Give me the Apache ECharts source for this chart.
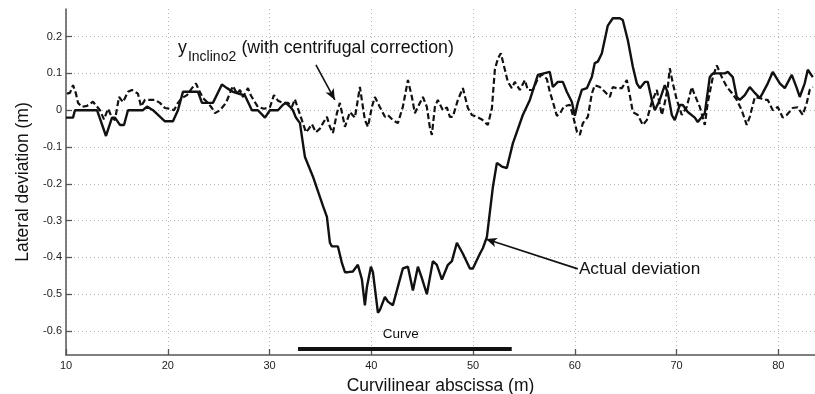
<!DOCTYPE html>
<html>
<head>
    <meta http-equiv="Content-Type" content="text/html; charset=UTF-8">
    <title>Lateral deviation</title>
    <script src="https://cdn.jsdelivr.net/npm/echarts@6/dist/echarts.min.js"></script>
    <style type="text/css">
        *{padding:0;margin:0}
        body{background:#fff;}
        #chart{width:815px;height:394px;}
    </style>
</head>
<body>
<div id="chart"></div>
<script type="text/javascript">
    // actual deviation (solid)
    var solidX = [10.00,10.69,10.88,13.05,13.93,14.52,14.81,15.30,15.70,16.09,17.56,17.96,18.55,19.72,20.51,21.00,21.49,22.97,23.36,24.44,
        25.32,25.82,26.40,27.58,28.27,28.86,29.55,30.04,30.83,31.32,31.61,32.00,32.30,32.59,32.99,33.28,33.48,33.67,34.26,35.25,
        35.64,35.93,36.13,36.72,37.11,37.41,37.70,38.19,38.68,39.08,39.37,39.57,39.96,40.16,40.65,40.84,41.34,41.63,42.12,42.61,
        43.10,43.60,44.09,44.58,44.97,45.46,46.05,46.44,46.94,47.53,47.92,48.41,49.00,49.69,49.98,50.67,50.96,51.36,51.94,52.34,
        52.83,53.32,53.91,54.89,55.58,56.37,57.54,57.84,58.33,58.82,59.21,59.70,60.00,60.29,60.69,61.18,61.67,61.96,62.26,62.65,
        63.24,63.73,64.42,64.71,65.21,65.70,66.09,66.39,66.88,67.17,67.57,67.86,68.35,68.84,69.14,69.53,69.82,70.31,70.61,71.10,
        71.79,72.08,72.77,73.26,73.56,74.74,75.03,75.52,75.91,76.21,76.70,77.19,77.69,78.18,78.47,78.96,79.45,80.14,80.63,81.32,
        81.81,82.10,82.59,82.89,83.38];
    var solidY = [-0.02,-0.02,0.0,0.0,-0.07,-0.02,-0.02,-0.04,-0.04,0.0,0.0,0.01,0.0,-0.03,-0.03,0.0,0.05,0.05,0.02,0.02,
        0.07,0.06,0.05,0.04,0.0,0.0,-0.02,0.0,0.0,0.015,0.02,0.01,0.0,-0.02,-0.035,-0.09,-0.127,-0.13,-0.18,-0.26,
        -0.29,-0.36,-0.37,-0.37,-0.415,-0.44,-0.44,-0.438,-0.42,-0.46,-0.53,-0.48,-0.425,-0.44,-0.55,-0.543,-0.507,-0.52,-0.53,-0.48,
        -0.43,-0.425,-0.49,-0.425,-0.456,-0.5,-0.41,-0.42,-0.46,-0.42,-0.41,-0.36,-0.39,-0.43,-0.43,-0.39,-0.375,-0.344,-0.21,-0.143,
        -0.153,-0.157,-0.09,-0.013,0.028,0.096,0.104,0.063,0.077,0.077,0.05,0.023,-0.015,0.02,0.055,0.06,0.09,0.128,0.132,0.154,
        0.23,0.25,0.25,0.245,0.19,0.118,0.073,0.06,0.077,0.077,0.028,0.0,0.028,0.068,0.047,-0.013,-0.027,0.014,0.014,-0.005,
        -0.02,-0.032,-0.008,0.09,0.1,0.1,0.104,0.09,0.036,0.028,0.041,0.063,0.047,0.033,0.047,0.073,0.104,0.073,0.06,0.096,
        0.06,0.036,0.073,0.11,0.09];

    // y Inclino2 with centrifugal correction (dashed)
    var dashX = [10.10,10.39,10.69,10.98,11.18,11.57,12.06,12.65,13.34,13.73,14.13,14.52,14.81,15.21,15.60,16.09,16.48,17.07,17.37,17.76,
        18.25,18.74,19.23,19.72,20.22,20.61,21.00,21.39,21.89,22.38,22.77,23.06,23.46,23.95,24.34,24.64,25.13,25.72,26.40,26.80,
        27.09,27.39,27.88,28.17,28.47,28.86,29.45,30.04,30.43,30.83,31.32,31.81,32.20,32.49,32.79,33.18,33.58,33.87,34.16,34.56,
        34.95,35.25,35.64,35.93,36.23,36.62,36.91,37.41,37.90,38.39,38.88,39.37,39.67,40.06,40.35,40.84,41.34,41.63,42.12,42.61,
        43.10,43.60,43.99,44.28,44.58,45.07,45.46,45.76,45.95,46.25,46.54,47.03,47.43,47.72,48.01,48.51,49.00,49.49,49.88,50.37,
        50.86,51.45,51.85,52.14,52.43,52.73,53.02,53.42,53.81,54.10,54.60,55.09,55.38,55.87,56.27,56.76,57.25,57.54,57.84,58.23,
        58.53,58.92,59.51,59.80,60.20,60.49,60.79,61.28,61.67,61.96,62.46,62.95,63.44,63.73,64.12,64.62,65.11,65.40,65.70,66.19,
        66.68,67.07,67.57,68.06,68.55,68.84,69.14,69.33,69.63,70.02,70.51,71.00,71.49,71.79,72.28,72.77,73.06,73.56,73.95,74.44,
        74.94,75.43,75.91,76.40,76.89,77.19,77.69,78.18,78.67,78.96,79.45,79.94,80.43,80.82,81.41,81.90,82.40,82.79,83.08,83.38];
    var dashY = [0.045,0.047,0.068,0.045,0.02,0.009,0.012,0.023,0.0,-0.025,0.004,-0.02,-0.027,0.036,0.022,0.05,0.055,0.045,0.01,0.028,
        0.028,0.028,0.02,0.006,0.004,0.0,0.02,0.033,0.041,0.06,0.073,0.055,0.033,0.02,0.006,-0.008,0.0,0.02,0.066,0.045,
        0.055,0.036,0.06,0.04,0.026,0.009,0.004,0.008,0.041,0.026,0.02,0.02,0.009,0.03,0.005,-0.027,-0.06,-0.05,-0.038,-0.06,
        -0.05,-0.035,-0.018,-0.045,-0.062,-0.008,0.02,-0.045,-0.005,-0.02,0.063,-0.027,-0.045,0.009,0.036,0.009,-0.018,-0.013,-0.027,-0.035,
        0.009,0.082,0.036,-0.008,0.009,0.036,0.009,-0.048,-0.067,0.009,0.028,0.0,0.008,-0.018,-0.018,0.028,0.06,0.006,-0.013,-0.018,
        -0.025,-0.04,0.005,0.11,0.14,0.155,0.122,0.077,0.06,0.077,0.055,0.082,0.055,0.055,0.08,0.098,0.085,0.05,0.023,-0.015,
        -0.01,0.01,0.015,-0.013,-0.058,-0.067,-0.035,-0.018,0.045,0.068,0.063,0.05,0.036,0.063,0.06,0.06,0.082,0.041,-0.005,-0.013,
        -0.04,-0.027,0.023,0.055,-0.013,0.02,0.063,0.114,0.073,0.028,-0.013,0.009,0.063,0.041,0.009,-0.04,0.02,0.09,0.122,0.09,
        0.063,0.047,0.028,0.0,-0.04,-0.018,0.036,0.033,0.028,0.028,0.0,0.009,-0.02,-0.013,0.006,0.008,-0.013,0.02,0.055,0.063];

    var curveSpan = [32.8, 53.8];   // thick bar "Curve"
    var curveLevel = -0.647;
    var xTicks = [10, 20, 30, 40, 50, 60, 70, 80];
    var yTicks = [-0.6, -0.5, -0.4, -0.3, -0.2, -0.1, 0, 0.1, 0.2];

    function zip(xs, ys){
        return xs.map(function(x, i){ return [x, ys[i]]; });
    }

    var font = 'Liberation Sans, Arial, sans-serif';
    var chart = echarts.init(document.getElementById('chart'));

    var option = {
        animation: false,
        backgroundColor: '#fff',
        grid: {left: 66, right: 0, top: 9, bottom: 39, outerBoundsMode: 'none', containLabel: false},
        xAxis: {
            type: 'value',
            min: 10, max: 83.6, interval: 10,
            name: 'Curvilinear abscissa (m)',
            nameLocation: 'middle',
            nameGap: 22,
            nameTextStyle: {fontFamily: font, fontSize: 17.5, color: '#111'},
            axisLine: {show: true, onZero: false, lineStyle: {color: '#555', width: 1.5}},
            axisTick: {show: true, inside: true, length: 6, lineStyle: {color: '#555', width: 1.3}},
            axisLabel: {
                fontFamily: font, fontSize: 11, color: '#222', margin: 5,
                showMaxLabel: false,
                formatter: function(v){ return xTicks.indexOf(v) >= 0 ? String(v) : ''; }
            },
            splitLine: {show: true, showMaxLine: false, lineStyle: {color: '#b5b5b5', type: [1, 3], width: 1}}
        },
        yAxis: {
            type: 'value',
            min: -0.665, max: 0.275,
            minInterval: 0.1, maxInterval: 0.1,
            name: 'Lateral deviation (m)',
            nameLocation: 'middle',
            nameGap: 33,
            nameTextStyle: {fontFamily: font, fontSize: 17.5, color: '#111'},
            axisLine: {show: true, lineStyle: {color: '#555', width: 1.5}},
            axisTick: {show: true, inside: true, length: 6, lineStyle: {color: '#555', width: 1.3}},
            axisLabel: {
                fontFamily: font, fontSize: 11, color: '#222', margin: 4,
                showMinLabel: false, showMaxLabel: false,
                formatter: function(v){
                    var r = Math.round(v * 10) / 10;
                    if (Math.abs(r - v) > 1e-6 || yTicks.indexOf(r) < 0) return '';
                    return r === 0 ? '0' : String(r);
                }
            },
            splitLine: {show: true, showMinLine: false, showMaxLine: false, lineStyle: {color: '#b5b5b5', type: [1, 3], width: 1}}
        },
        series: [
            {
                name: 'yInclino2',
                type: 'line',
                data: zip(dashX, dashY),
                symbol: 'none',
                lineStyle: {color: '#111', width: 2.2, type: [6, 3]},
                z: 3
            },
            {
                name: 'Actual deviation',
                type: 'line',
                data: zip(solidX, solidY),
                symbol: 'none',
                lineStyle: {color: '#111', width: 2.4},
                z: 4,
                markLine: {
                    silent: true,
                    animation: false,
                    label: {show: false},
                    data: [
                        // Curve bar
                        [{coord: [curveSpan[0], curveLevel], symbol: 'none', lineStyle: {width: 4, color: '#111', type: 'solid'}},
                         {coord: [curveSpan[1], curveLevel], symbol: 'none'}],
                        // arrow to dashed line
                        [{coord: [34.56, 0.123], symbol: 'none', lineStyle: {width: 1.6, color: '#111', type: 'solid'}},
                         {coord: [36.42, 0.028], symbol: 'arrow', symbolSize: [7, 11]}],
                        // arrow to solid line
                        [{coord: [60.29, -0.431], symbol: 'none', lineStyle: {width: 1.6, color: '#111', type: 'solid'}},
                         {coord: [51.26, -0.35], symbol: 'arrow', symbolSize: [7, 11]}]
                    ]
                }
            }
        ]
    };
    chart.setOption(option);

    // text annotations, anchored in data coordinates
    var pInc = chart.convertToPixel({gridIndex: 0}, [21.0, 0.17]);
    var pAct = chart.convertToPixel({gridIndex: 0}, [60.3, -0.432]);
    var pCur = chart.convertToPixel({gridIndex: 0}, [42.9, -0.608]);
    chart.setOption({
        graphic: [
            {
                type: 'group', x: pInc[0], y: pInc[1],
                children: [
                    {type: 'text', x: 0, y: 0, style: {text: 'y', font: '17.7px ' + font, fill: '#111', verticalAlign: 'middle'}},
                    {type: 'text', x: 10, y: 9.5, style: {text: 'Inclino2', font: '14px ' + font, fill: '#111', verticalAlign: 'middle'}},
                    {type: 'text', x: 63.5, y: 0, style: {text: '(with centrifugal correction)', font: '17.7px ' + font, fill: '#111', verticalAlign: 'middle'}}
                ]
            },
            {type: 'text', x: pAct[0] + 1, y: pAct[1], style: {text: 'Actual deviation', font: '17.2px ' + font, fill: '#111', verticalAlign: 'middle'}},
            {type: 'text', x: pCur[0], y: pCur[1], style: {text: 'Curve', font: '13.5px ' + font, fill: '#111', align: 'center', verticalAlign: 'middle'}}
        ]
    });
</script>
</body>
</html>
